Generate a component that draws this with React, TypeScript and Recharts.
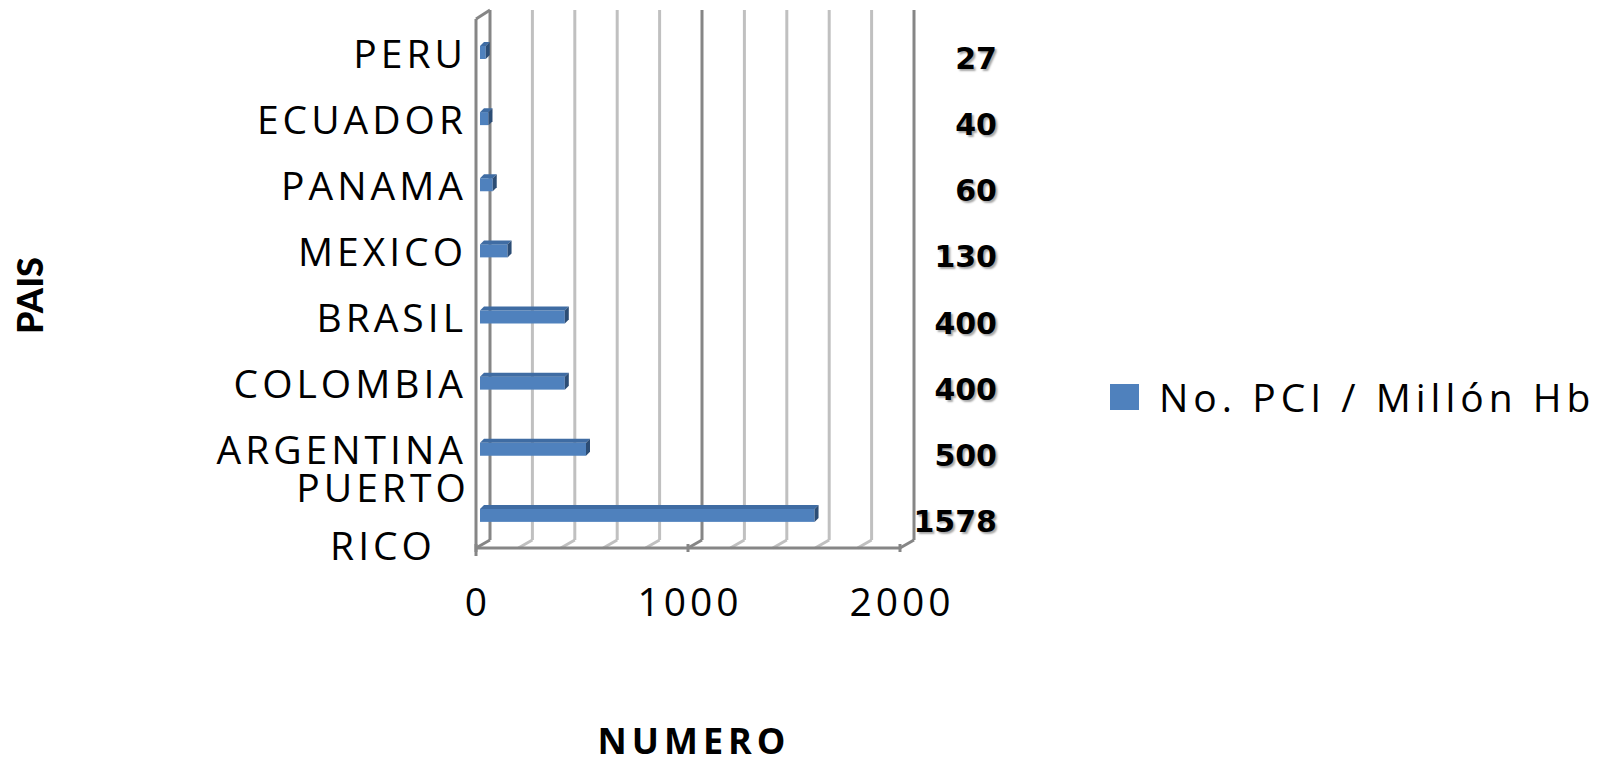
import React from 'react';
import {
  BarChart,
  Bar,
  XAxis,
  YAxis,
  CartesianGrid,
  Legend,
  LabelList,
} from 'recharts';

// paises y valores (No. PCI / Millón Hb)
const countries = ['PERU', 'ECUADOR', 'PANAMA', 'MEXICO', 'BRASIL', 'COLOMBIA', 'ARGENTINA', 'PUERTO RICO'];
const pciValues = [27, 40, 60, 130, 400, 400, 500, 1578];
const xTicks = [0, 200, 400, 600, 800, 1000, 1200, 1400, 1600, 1800, 2000];
const seriesName = 'No. PCI / Millón Hb';

const data = countries.map((name, i) => ({ name, value: pciValues[i] }));

const BLUE = '#4F81BD';
const AXIS_GRAY = '#868686';
const GRID_GRAY = '#c0c0c0';
const DX = 14; // desplazamiento de la pared del fondo
const DY = 8;
const labelFont = '"Open Sans", sans-serif';

// caja 3D simple para cada barra
const Bar3D = (props: any) => {
  const { x, y, width, height } = props;
  if (width == null || height == null) return null;
  const d = 4;
  const fx = x + 4;
  return (
    <g>
      <rect x={fx} y={y} width={width} height={height} fill={BLUE} />
      <polygon
        points={`${fx},${y} ${fx + d},${y - d} ${fx + width + d},${y - d} ${fx + width},${y}`}
        fill="#3f6ca3"
      />
      <polygon
        points={`${fx + width},${y} ${fx + width + d},${y - d} ${fx + width + d},${y + height - d} ${fx + width},${y + height}`}
        fill="#2c4d75"
      />
    </g>
  );
};

const GridLine = (p: any) => {
  const { x1, y1, y2, index } = p;
  const major = index % 5 === 0;
  const stroke = major ? AXIS_GRAY : GRID_GRAY;
  const bx = x1 + DX;
  return (
    <g key={`g-${index}`}>
      <line x1={bx} y1={y1 - DY - 1} x2={bx} y2={y2 - DY} stroke={stroke} strokeWidth={3} />
      <line x1={bx} y1={y2 - DY} x2={x1} y2={y2} stroke={stroke} strokeWidth={3} />
      {index === 0 && (
        <>
          <line x1={x1} y1={y1} x2={x1} y2={y2 + 8} stroke={AXIS_GRAY} strokeWidth={3} />
          <line x1={x1} y1={y1} x2={bx} y2={y1 - DY - 1} stroke={AXIS_GRAY} strokeWidth={3} />
        </>
      )}
    </g>
  );
};

const CategoryTick = (props: any) => {
  const { x, y, payload } = props;
  const words = String(payload.value).split(' ');
  const style = { fontFamily: labelFont, fontSize: 39, letterSpacing: 4, fill: '#000' };
  if (words.length > 1) {
    return (
      <g>
        <text x={x - 84} y={y - 28} textAnchor="middle" dominantBaseline="central" style={style}>
          {words[0]}
        </text>
        <text x={x - 84} y={y + 30} textAnchor="middle" dominantBaseline="central" style={style}>
          {words[1]}
        </text>
      </g>
    );
  }
  return (
    <text x={x} y={y} textAnchor="end" dominantBaseline="central" style={style}>
      {payload.value}
    </text>
  );
};

const NumberTick = (props: any) => {
  const { x, y, payload } = props;
  if (payload.value % 1000 !== 0) return null;
  return (
    <g>
      <line x1={x} y1={y - 12} x2={x} y2={y - 4} stroke={AXIS_GRAY} strokeWidth={3} />
      <text
        x={x + 2}
        y={y + 44}
        textAnchor="middle"
        dominantBaseline="central"
        style={{ fontFamily: labelFont, fontSize: 39, letterSpacing: 4, fill: '#000' }}
      >
        {payload.value}
      </text>
    </g>
  );
};

const ValueLabel = (props: any) => {
  const { x, y, width, height, value } = props;
  if (!value) return null;
  const pxPerUnit = width / value;
  const right = x + pxPerUnit * 2000 + 97;
  return (
    <text
      x={right}
      y={y + height / 2 + 6}
      textAnchor="end"
      dominantBaseline="central"
      style={{
        fontFamily: '"DejaVu Sans", sans-serif',
        fontWeight: 700,
        fontSize: 30,
        fill: '#000',
        textShadow: '2px 2px 2px rgba(0,0,0,0.35)',
      }}
    >
      {value}
    </text>
  );
};

const LegendBox = () => (
  <div style={{ display: 'flex', alignItems: 'center' }}>
    <div style={{ width: 29, height: 26, background: BLUE, marginRight: 20 }} />
    <span style={{ fontFamily: labelFont, fontSize: 39, letterSpacing: 5, color: '#000', whiteSpace: 'nowrap' }}>
      {seriesName}
    </span>
  </div>
);

export default function App() {
  return (
    <div style={{ position: 'absolute', left: 0, top: 0, width: 1604, height: 764, background: '#fff' }}>
      <BarChart
        width={1604}
        height={764}
        data={data}
        layout="vertical"
        margin={{ top: 19, right: 704, bottom: 16, left: 0 }}
        barSize={13}
      >
        <CartesianGrid horizontal={false} vertical={GridLine} />
        <XAxis
          type="number"
          domain={[0, 2000]}
          ticks={xTicks}
          interval={0}
          height={200}
          axisLine={{ stroke: AXIS_GRAY, strokeWidth: 3 }}
          tickLine={false}
          tick={<NumberTick />}
          label={{
            content: ({ viewBox }: any) => (
              <text
                x={viewBox.x + viewBox.width / 2 + 6}
                y={viewBox.y + 192}
                textAnchor="middle"
                dominantBaseline="central"
                style={{ fontFamily: labelFont, fontWeight: 700, fontSize: 36, letterSpacing: 5, fill: '#000' }}
              >
                NUMERO
              </text>
            ),
          }}
        />
        <YAxis
          type="category"
          dataKey="name"
          width={476}
          axisLine={false}
          tickLine={false}
          tickSize={0}
          tickMargin={9}
          interval={0}
          tick={<CategoryTick />}
          label={{
            content: ({ viewBox }: any) => (
              <text
                x={29}
                y={viewBox.y + viewBox.height / 2 + 12}
                textAnchor="middle"
                dominantBaseline="central"
                transform={`rotate(-90 29 ${viewBox.y + viewBox.height / 2 + 12})`}
                style={{ fontFamily: 'Lato, sans-serif', fontWeight: 900, fontSize: 36, fill: '#000' }}
              >
                PAIS
              </text>
            ),
          }}
        />
        <Legend
          layout="horizontal"
          align="center"
          verticalAlign="middle"
          content={<LegendBox />}
          wrapperStyle={{ position: 'absolute', left: 1110, top: 370, width: 494 }}
        />
        <Bar dataKey="value" name={seriesName} fill={BLUE} shape={<Bar3D />} isAnimationActive={false}>
          <LabelList dataKey="value" content={<ValueLabel />} />
        </Bar>
      </BarChart>
    </div>
  );
}
